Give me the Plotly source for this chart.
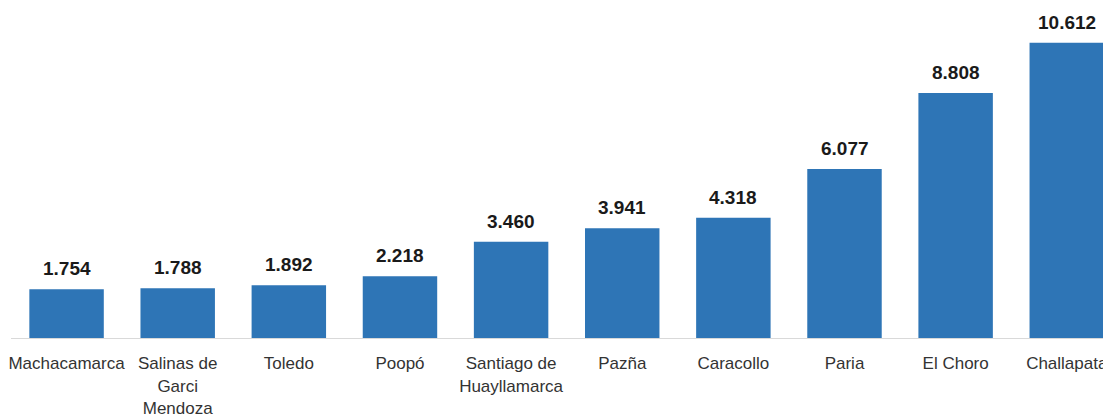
import plotly.graph_objects as go

categories = ["Machacamarca", "Salinas de<br>Garci<br>Mendoza", "Toledo", "Poopó",
              "Santiago de<br>Huayllamarca", "Pazña", "Caracollo", "Paria",
              "El Choro", "Challapata"]
values = [1754, 1788, 1892, 2218, 3460, 3941, 4318, 6077, 8808, 10612]

fig = go.Figure(go.Bar(
    x=categories,
    y=values,
    marker=dict(color="#2E75B6", line=dict(width=0)),
    hoverinfo="x+y",
))

for c, v in zip(categories, values):
    fig.add_annotation(
        x=c, y=v, text=f"{v:,}".replace(",", "."),
        showarrow=False, yanchor="bottom", yshift=8,
        font=dict(family="Liberation Sans, Arial, sans-serif", size=19, color="#1a1a1a", weight="bold"),
    )

fig.update_layout(
    width=1111, height=416,
    margin=dict(l=3, r=0, t=0, b=86),
    paper_bgcolor="white", plot_bgcolor="white",
    bargap=0.33,
    showlegend=False,
    xaxis=dict(
        range=[-0.5, 9.47],
        showline=True, linecolor="#d9d9d9", linewidth=1,
        showgrid=False, zeroline=False,
        ticks="", tickfont=dict(family="Liberation Sans, Arial, sans-serif", size=17, color="#333333"),
        ticklabelstandoff=10,
    ),
    yaxis=dict(range=[0, 11860], visible=False),
)

fig.write_html("out.html")
